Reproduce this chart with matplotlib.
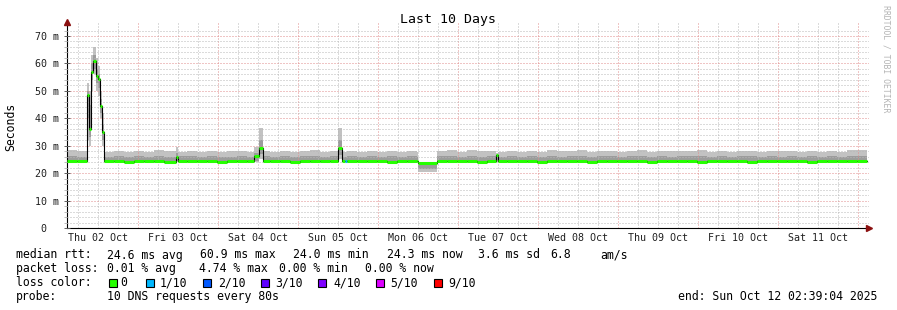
import matplotlib
matplotlib.use('Agg')
import matplotlib.pyplot as plt
import matplotlib.dates as mdates
from matplotlib.ticker import FixedLocator, FuncFormatter, NullFormatter
from matplotlib.patches import Rectangle
import pandas as pd

plt.rcParams['font.family'] = 'DejaVu Sans Mono'

start = pd.Timestamp('2025-10-02 02:39:04')
end = pd.Timestamp('2025-10-12 02:39:04')

# hours after start, one sample per step
hours = [0, 3, 6.0, 6.6, 7.2, 7.8, 8.7, 9.3, 9.9, 10.5,
         11.1, 14, 17, 20, 23, 26, 29, 32.7, 33.3,
         36, 39, 42, 45, 48, 51, 54, 56.1, 57.6, 58.8,
         61, 64, 67, 70, 73, 76, 79, 81.3, 82.5, 83.4,
         84, 87, 90, 93, 96, 99, 102, 105, 105.3,
         111, 114, 117, 120, 123, 126, 128.8, 129.4,
         132, 135, 138, 141, 144, 147, 150, 153, 156, 159, 162, 165,
         168, 171, 174, 177, 180, 183, 186, 189, 192, 195, 198, 201,
         204, 207, 210, 213, 216, 219, 222, 225, 228, 231, 234, 237]

median = [24.3, 24.3, 48.5, 36.0, 57.0, 60.9, 55.5, 54.3, 44.5, 35.0,
          24.3, 24.3, 24.2, 24.3, 24.3, 24.3, 24.2, 26.0, 24.3,
          24.3, 24.3, 24.3, 24.2, 24.3, 24.3, 24.3, 26.2, 29.0, 24.3,
          24.3, 24.3, 24.2, 24.3, 24.3, 24.3, 24.3, 29.0, 24.3, 24.3,
          24.3, 24.3, 24.3, 24.3, 24.2, 24.3, 24.3, 24.5, 23.8,
          24.3, 24.3, 24.3, 24.3, 24.2, 24.3, 26.5, 24.3,
          24.3, 24.3, 24.3, 24.2, 24.3, 24.3, 24.3, 24.3, 24.2, 24.3, 24.3, 24.3,
          24.3, 24.3, 24.2, 24.3, 24.3, 24.3, 24.3, 24.2, 24.3, 24.3, 24.3, 24.3,
          24.2, 24.3, 24.3, 24.3, 24.3, 24.3, 24.2, 24.3, 24.3, 24.3, 24.3, 24.3]

smoke_lo = [24.0, 24.0, 32.0, 30.0, 50.0, 56.0, 50.0, 48.0, 40.0, 30.0,
            24.0, 24.0, 24.0, 24.0, 24.0, 24.0, 24.0, 24.0, 24.0,
            24.0, 24.0, 24.0, 24.0, 24.0, 24.0, 24.0, 24.0, 25.0, 24.0,
            24.0, 24.0, 24.0, 24.0, 24.0, 24.0, 24.0, 25.0, 24.0, 24.0,
            24.0, 24.0, 24.0, 24.0, 24.0, 24.0, 24.0, 24.0, 20.5,
            24.0, 24.0, 24.0, 24.0, 24.0, 24.0, 24.0, 24.0,
            24.0, 24.0, 24.0, 24.0, 24.0, 24.0, 24.0, 24.0, 24.0, 24.0, 24.0, 24.0,
            24.0, 24.0, 24.0, 24.0, 24.0, 24.0, 24.0, 24.0, 24.0, 24.0, 24.0, 24.0,
            24.0, 24.0, 24.0, 24.0, 24.0, 24.0, 24.0, 24.0, 24.0, 24.0, 24.0, 24.0]

smoke_q1 = [24.0, 24.0, 40.0, 33.0, 54.0, 58.0, 53.0, 51.0, 42.0, 32.0,
            24.0, 24.0, 24.0, 24.1, 24.0, 24.0, 24.0, 24.5, 24.0,
            24.0, 24.0, 24.0, 24.0, 24.0, 24.0, 24.0, 24.5, 27.0, 24.0,
            24.0, 24.0, 24.0, 24.0, 24.0, 24.0, 24.0, 26.5, 24.0, 24.0,
            24.0, 24.0, 24.0, 24.0, 24.0, 24.0, 24.0, 24.2, 21.5,
            24.0, 24.0, 24.0, 24.0, 24.0, 24.0, 24.5, 24.0,
            24.0, 24.0, 24.0, 24.0, 24.0, 24.0, 24.0, 24.0, 24.0, 24.0, 24.0, 24.0,
            24.0, 24.0, 24.0, 24.0, 24.0, 24.0, 24.0, 24.0, 24.0, 24.0, 24.0, 24.0,
            24.0, 24.0, 24.0, 24.0, 24.0, 24.0, 24.0, 24.0, 24.0, 24.0, 24.0, 24.0]

smoke_q3 = [26.2, 26.0, 50.0, 45.0, 60.0, 63.0, 58.0, 56.0, 47.0, 38.0,
            26.0, 26.4, 26.0, 26.3, 25.8, 26.2, 26.0, 27.5, 26.1,
            26.4, 26.0, 26.2, 25.9, 26.0, 26.3, 26.0, 27.5, 32.0, 26.2,
            25.9, 26.3, 26.0, 26.1, 26.4, 26.0, 26.2, 32.0, 26.0, 26.0,
            26.2, 25.9, 26.3, 26.0, 26.2, 26.0, 26.1, 26.0, 23.0,
            26.2, 26.4, 26.0, 26.3, 26.0, 26.2, 26.5, 26.0,
            26.3, 26.0, 26.2, 25.9, 26.3, 26.0, 26.2, 26.4, 26.0, 26.2, 26.3, 26.0,
            26.2, 26.4, 26.0, 26.2, 26.0, 26.3, 26.1, 26.4, 26.0, 26.2, 26.0, 26.3,
            26.1, 26.0, 26.2, 26.0, 26.3, 26.0, 26.2, 26.0, 26.1, 26.0, 26.3, 26.2]

smoke_hi = [28.5, 28.0, 53.0, 50.0, 63.0, 66.0, 62.0, 59.0, 50.0, 42.0,
            27.8, 28.2, 27.6, 28.0, 27.8, 28.3, 27.9, 29.5, 27.7,
            28.1, 27.7, 28.0, 27.6, 27.9, 28.2, 27.8, 29.5, 36.5, 28.0,
            27.7, 28.1, 27.8, 28.0, 28.4, 27.8, 28.0, 36.5, 27.6, 27.6,
            27.9, 27.7, 28.2, 27.8, 28.0, 27.6, 27.9, 27.7, 24.0,
            28.0, 28.5, 27.8, 28.3, 27.9, 28.0, 27.5, 27.8,
            28.2, 27.8, 28.0, 27.7, 28.3, 27.9, 28.1, 28.4, 27.8, 28.0, 28.2, 27.8,
            28.0, 28.3, 27.7, 28.1, 27.9, 28.2, 28.0, 28.4, 27.8, 28.0, 27.7, 28.2,
            28.0, 27.8, 28.1, 27.9, 28.2, 27.8, 28.0, 27.7, 28.0, 27.8, 28.3, 28.6]

loss_hours = [83.4]
loss_counts = [1]

loss_levels = [0, 1, 2, 3, 4, 5, 9]
loss_labels = ['0', '1/10', '2/10', '3/10', '4/10', '5/10', '9/10']
loss_colors = ['#26ff00', '#00b8ff', '#0059ff', '#5e00ff', '#7e00ff', '#dd00ff', '#ff0000']

W, H = 897, 310


def fx(x):
    return x / W


def fy(y):
    return 1 - y / H


fig = plt.figure(figsize=(W / 100, H / 100), dpi=100)
ax = fig.add_axes([fx(67), fy(228), (869 - 67) / W, (228 - 22) / H])

t = pd.to_datetime(start) + pd.to_timedelta(hours, unit='h')
t_num = list(mdates.date2num(t.to_pydatetime()))
edges = t_num + [mdates.date2num(end.to_pydatetime())]


def ext(v):
    return list(v) + [v[-1]]


# smoke
ax.fill_between(edges, ext(smoke_lo), ext(smoke_hi), step='post', color='#c2c2c2', lw=0, zorder=1)
ax.fill_between(edges, ext(smoke_q1), ext(smoke_q3), step='post', color='#9c9c9c', lw=0, zorder=1.1)

# median line
ax.step(edges, ext(median), where='post', color='black', lw=0.8, zorder=3)
color_of = dict(zip(loss_levels, loss_colors))
seg_colors = [color_of[0]] * len(hours)
for h, c in zip(loss_hours, loss_counts):
    seg_colors[hours.index(h)] = color_of[c]
ax.hlines(median, edges[:-1], edges[1:], colors=seg_colors, lw=2.2, zorder=4)

# axes
ax.set_xlim(mdates.date2num(start.to_pydatetime()),
            mdates.date2num((start + pd.Timedelta(hours=240.6)).to_pydatetime()))
ax.set_ylim(0, 75.1)
ax.yaxis.set_major_locator(FixedLocator([0, 10, 20, 30, 40, 50, 60, 70]))
ax.yaxis.set_minor_locator(FixedLocator(list(range(0, 73, 2))))
ax.set_yticklabels(['0  ', '10 m', '20 m', '30 m', '40 m', '50 m', '60 m', '70 m'])

ax.xaxis.set_major_locator(mdates.DayLocator())
ax.xaxis.set_major_formatter(NullFormatter())
ax.xaxis.set_minor_locator(mdates.HourLocator(byhour=[6, 12, 18]))


def day_label(x, pos):
    d = mdates.num2date(x)
    return d.strftime('%a %d %b') if d.hour == 12 else ''


ax.xaxis.set_minor_formatter(FuncFormatter(day_label))

dots = (0, (1, 2))
ax.set_axisbelow(False)
ax.grid(which='minor', color='#b8b8b8', linestyle=dots, lw=0.72)
ax.grid(which='major', color='#e08c8c', linestyle=dots, lw=0.72)

ax.tick_params(axis='x', which='both', length=0, pad=3.5, labelsize=7.2, colors='#202020')
ax.tick_params(axis='y', which='major', direction='inout', length=4, width=0.7,
               pad=3.5, labelsize=7.2, color='#606060', labelcolor='#202020')
ax.tick_params(axis='y', which='minor', direction='out', length=2, width=0.6, color='#b0b0b0')

for s in ['top', 'right']:
    ax.spines[s].set_visible(False)
for s in ['left', 'bottom']:
    ax.spines[s].set_linewidth(0.8)
    ax.spines[s].set_color('black')

ax.plot(0, 1, marker='^', ms=4, color='#8b1010', transform=ax.transAxes, clip_on=False, zorder=6)
ax.plot(1, 0, marker='>', ms=4, color='#8b1010', transform=ax.transAxes, clip_on=False, zorder=6)

# titles
fig.text(fx(448), fy(19), 'Last 10 Days', ha='center', va='center', fontsize=9.5)
fig.text(fx(11), fy(127), 'Seconds', ha='center', va='center', rotation=90, fontsize=8.3)
fig.text(fx(886), fy(59), 'RRDTOOL / TOBI OETIKER', ha='center', va='center',
         rotation=270, fontsize=5.9, color='#b4b4b4')

# legend text
fs = 8.3
row1 = ['median rtt:', '24.6 ms avg', '60.9 ms max', '24.0 ms min', '24.3 ms now',
        '3.6 ms sd', '6.8', 'am/s']
row1_x = [16, 107, 200, 293, 387, 478, 550, 600]
row2 = ['packet loss:', '0.01 % avg', '4.74 % max', '0.00 % min', '0.00 % now']
row2_x = [16, 107, 199, 279, 365]
for s, x in zip(row1, row1_x):
    fig.text(fx(x), fy(258.5), s, ha='left', va='baseline', fontsize=fs)
for s, x in zip(row2, row2_x):
    fig.text(fx(x), fy(272), s, ha='left', va='baseline', fontsize=fs)

fig.text(fx(16), fy(286.3), 'loss color:', ha='left', va='baseline', fontsize=fs)
box_x = [109, 146, 203, 261, 318, 376, 434]
lab_x = [120, 160, 218, 275, 333, 390, 448]
for c, lab, bx, lx in zip(loss_colors, loss_labels, box_x, lab_x):
    fig.patches.append(Rectangle((fx(bx), fy(286.5)), 8 / W, 8 / H, transform=fig.transFigure,
                                 facecolor=c, edgecolor='black', lw=0.8))
    fig.text(fx(lx), fy(286.3), lab, ha='left', va='baseline', fontsize=fs)

fig.text(fx(16), fy(300.3), 'probe:', ha='left', va='baseline', fontsize=fs)
fig.text(fx(107), fy(300.3), '10 DNS requests every 80s', ha='left', va='baseline', fontsize=fs)
fig.text(fx(678), fy(300.3), 'end: Sun Oct 12 02:39:04 2025', ha='left', va='baseline', fontsize=fs)

fig.savefig('out.png', dpi=100)
